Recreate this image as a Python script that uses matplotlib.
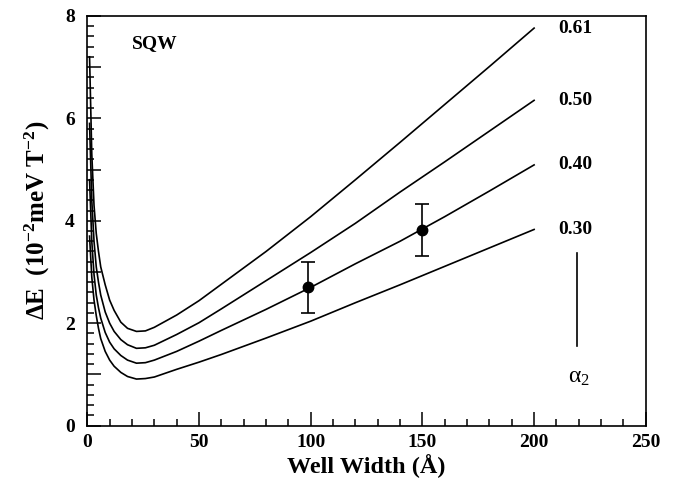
import matplotlib
matplotlib.use('Agg')
import matplotlib.pyplot as plt
from matplotlib.ticker import MultipleLocator, FuncFormatter

plt.rcParams['font.family'] = ['Liberation Serif', 'DejaVu Serif']
plt.rcParams['mathtext.fontset'] = 'custom'
plt.rcParams['mathtext.rm'] = 'Liberation Serif'
plt.rcParams['mathtext.bf'] = 'Liberation Serif:bold'
plt.rcParams['mathtext.it'] = 'Liberation Serif:italic'

# well width (A) grid for the calculated curves
width = [1, 2, 3, 4, 5, 6, 8, 10, 12, 15, 18, 22, 26, 30, 40, 50, 60, 80,
         100, 120, 140, 160, 180, 200]

# Delta E (10^-2 meV T^-2) for each alpha_2
de_061 = [7.2, 5.3, 4.3, 3.75, 3.4, 3.1, 2.75, 2.45, 2.25, 2.02, 1.90, 1.84,
          1.85, 1.92, 2.16, 2.44, 2.76, 3.40, 4.08, 4.80, 5.53, 6.27, 7.01, 7.76]
de_050 = [5.9, 4.4, 3.6, 3.1, 2.8, 2.55, 2.22, 2.0, 1.84, 1.68, 1.58, 1.51,
          1.52, 1.57, 1.78, 2.01, 2.28, 2.83, 3.38, 3.95, 4.56, 5.15, 5.75, 6.35]
de_040 = [4.8, 3.6, 2.95, 2.55, 2.3, 2.1, 1.82, 1.63, 1.5, 1.37, 1.28, 1.22,
          1.23, 1.28, 1.45, 1.65, 1.86, 2.27, 2.70, 3.16, 3.60, 4.08, 4.58, 5.09]
de_030 = [3.7, 2.9, 2.45, 2.15, 1.9, 1.7, 1.45, 1.28, 1.16, 1.04, 0.96, 0.91,
          0.92, 0.95, 1.10, 1.24, 1.39, 1.71, 2.04, 2.40, 2.75, 3.11, 3.47, 3.83]
curves = [de_061, de_050, de_040, de_030]
alpha_labels = ['0.61', '0.50', '0.40', '0.30']

# measured points
meas_w = [99, 150]
meas_de = [2.70, 3.82]
meas_err = [0.5, 0.5]

fig = plt.figure(figsize=(6.79, 4.79), dpi=100)
ax = fig.add_axes([0.1286, 0.1113, 0.8225, 0.8557])

for de, lab in zip(curves, alpha_labels):
    ax.plot(width, de, color='black', lw=1.2)
    ax.text(211, de[-1], lab, fontsize=14, fontweight='bold',
            ha='left', va='center')

ax.errorbar(meas_w, meas_de, yerr=meas_err, fmt='o', color='black',
            markersize=7.5, capsize=5, elinewidth=1.2, capthick=1.2)

# alpha_2 indicator
ax.plot([219, 219], [1.55, 3.37], color='black', lw=1.2)
ax.text(220, 0.95, 'α$_2$', fontsize=17, ha='center', va='center')

ax.text(20, 7.45, 'SQW', fontsize=14, fontweight='bold', ha='left',
        va='center')

ax.set_xlim(0, 250)
ax.set_ylim(0, 8)
ax.xaxis.set_major_locator(MultipleLocator(50))
ax.xaxis.set_minor_locator(MultipleLocator(10))
ax.yaxis.set_major_locator(MultipleLocator(1))
ax.yaxis.set_minor_locator(MultipleLocator(0.2))
ax.yaxis.set_major_formatter(
    FuncFormatter(lambda v, p: '%d' % v if int(round(v)) % 2 == 0 else ''))
ax.tick_params(which='both', direction='in', top=False, right=False,
               labelsize=14, width=1.1)
ax.tick_params(which='major', length=10)
ax.tick_params(axis='x', which='major', pad=6)
ax.tick_params(axis='y', which='major', pad=9)
ax.tick_params(which='minor', length=5)
for lbl in ax.get_xticklabels() + ax.get_yticklabels():
    lbl.set_fontweight('bold')
for sp in ax.spines.values():
    sp.set_linewidth(1.2)

ax.set_xlabel('Well Width (Å)', fontsize=17.5, fontweight='bold', labelpad=2)
ax.set_ylabel(r'ΔE  (10$^{\mathbf{-2}}$meV T$^{\mathbf{-2}}$)', fontsize=18,
              fontweight='bold', labelpad=9)

fig.savefig('out.png', dpi=100)
